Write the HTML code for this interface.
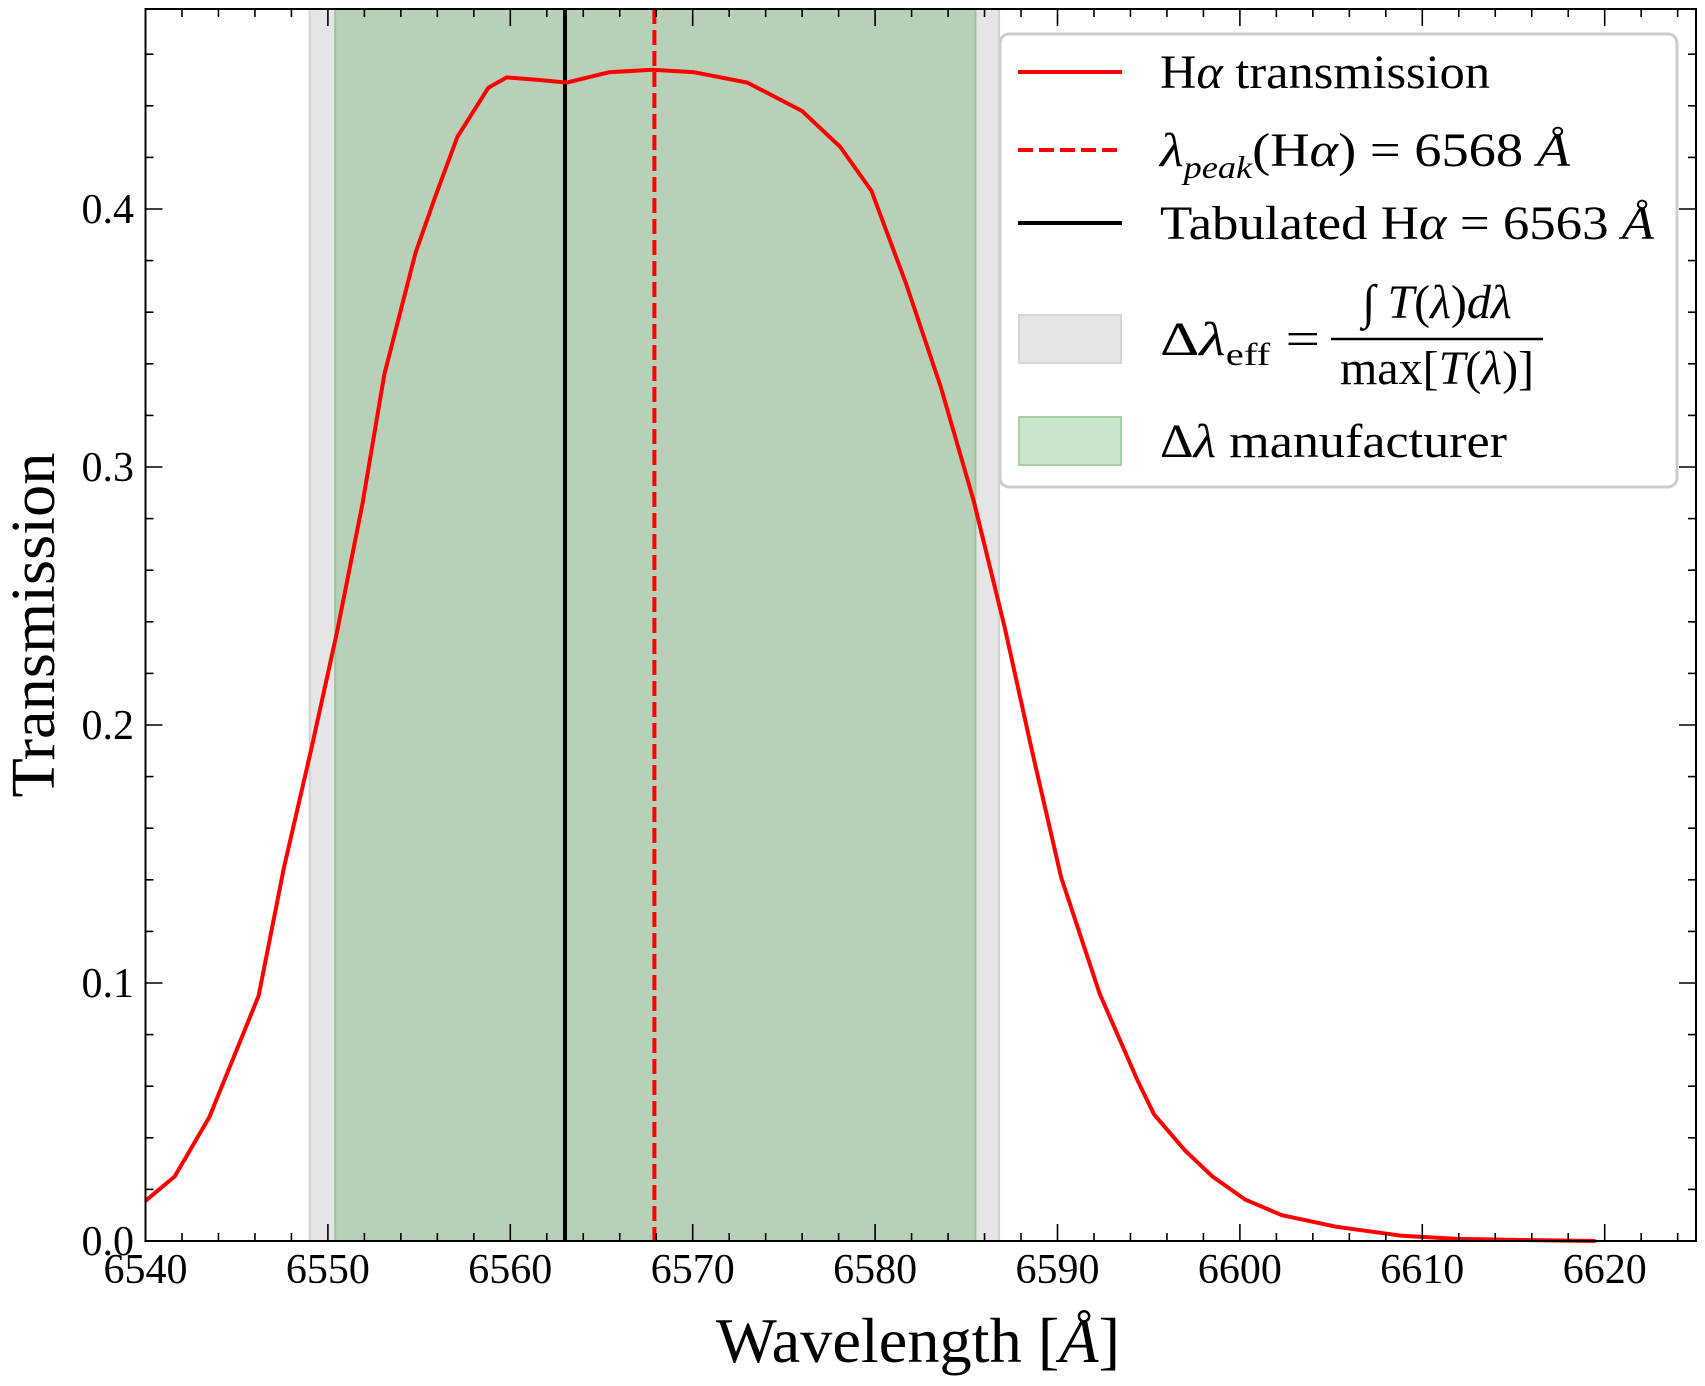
<!DOCTYPE html>
<html><head><meta charset="utf-8"><style>
html,body{margin:0;padding:0;background:#fff;}
svg{display:block;font-family:"Liberation Serif","DejaVu Serif",serif;}
svg text{font-family:"Liberation Serif","DejaVu Serif",serif;}
</style></head><body>
<svg id="chart" width="1705" height="1386" viewBox="0 0 1705 1386" xmlns="http://www.w3.org/2000/svg">
<g id="bands"></g>
<g id="series"></g>
<g id="axes"></g>
<g id="legend"></g>
</svg>
<script>
const wavelengths=[6540,6541.6,6543.5,6546.2,6547.6,6549.1,6550.5,6551.9,6553.1,6554.8,6555.9,6557.1,6558.8,6559.8,6561.6,6563.1,6565.4,6567.8,6570.1,6573.0,6576.0,6578.1,6579.8,6581.7,6583.6,6585.4,6587.1,6588.6,6590.2,6592.3,6594.4,6595.3,6597.0,6598.5,6600.3,6602.3,6605.3,6608.9,6611.9,6615.5,6619.5];
const transmission=[0.0156,0.025,0.048,0.095,0.145,0.191,0.236,0.286,0.336,0.383,0.405,0.428,0.447,0.451,0.450,0.449,0.453,0.454,0.453,0.449,0.438,0.424,0.407,0.371,0.331,0.287,0.238,0.190,0.141,0.096,0.062,0.049,0.035,0.025,0.016,0.010,0.0055,0.002,0.0008,0.0004,0.0];
const xTicks=[6540,6550,6560,6570,6580,6590,6600,6610,6620];
const yTicks=[0.0,0.1,0.2,0.3,0.4];
const yTickLabels=["0.0","0.1","0.2","0.3","0.4"];
const peakLambda=6567.9;
const tabulatedLambda=6563.0;
const effBand=[6549.0,6586.8];
const manuBand=[6550.4,6585.5];
const xMin=6540, xMax=6625, yMin=0, yMax=0.4775;
const L=145.5,R=1696,T=9,B=1241;
const NS="http://www.w3.org/2000/svg";
const FF='"Liberation Serif","DejaVu Serif",serif';
function sx(v){return L+(v-xMin)*18.24;}
function sy(v){return B-(v-yMin)*2580;}
function mk(tag,attrs,parent){const e=document.createElementNS(NS,tag);for(const k in attrs)e.setAttribute(k,attrs[k]);if(tag==='text')e.setAttribute('font-family',FF);parent.appendChild(e);return e;}
const bands=document.getElementById('bands'),series=document.getElementById('series'),axes=document.getElementById('axes'),legend=document.getElementById('legend');

let b1=mk('rect',{x:sx(effBand[0]),y:T,width:sx(effBand[1])-sx(effBand[0]),height:B-T,fill:'#e5e5e5',stroke:'#d0d0d0','stroke-width':2},bands);


let b2=mk('rect',{x:sx(manuBand[0]),y:T,width:sx(manuBand[1])-sx(manuBand[0]),height:B-T,fill:'#b8d0b8',stroke:'#9cc49c','stroke-width':2},bands);



let vt=mk('line',{x1:sx(tabulatedLambda),x2:sx(tabulatedLambda),y1:T,y2:B,stroke:'#000','stroke-width':4},series);


let vp=mk('line',{x1:sx(peakLambda),x2:sx(peakLambda),y1:T,y2:B,stroke:'#ff0000','stroke-width':4,'stroke-dasharray':'15,6'},series);


let pts=wavelengths.map((w,i)=>sx(w).toFixed(1)+','+sy(transmission[i]).toFixed(1)).join(' ');
let curve=mk('polyline',{points:pts,fill:'none',stroke:'#ff0000','stroke-width':4,'stroke-linejoin':'round'},series);



let fr=mk('rect',{x:L,y:T,width:R-L,height:B-T,fill:'none',stroke:'#000','stroke-width':2},axes);


for(let v=xMin;v<=xMax+0.001;v+=2){
  const major=(Math.round(v)%10===0);const len=major?17:8;const x=sx(v);
  mk('line',{x1:x,x2:x,y1:B,y2:B-len,stroke:'#000','stroke-width':1.6},axes);
  mk('line',{x1:x,x2:x,y1:T,y2:T+len,stroke:'#000','stroke-width':1.6},axes);
}
xTicks.forEach(v=>{
  const t=mk('text',{x:sx(v),y:1283,'font-size':42,'text-anchor':'middle'},axes);
  t.textContent=String(v);
  
  
});
for(let k=0;k<=23;k++){
  const v=k*0.02;const major=(k%5===0);const len=major?17:8;const y=sy(v);
  if(y<T)break;
  mk('line',{x1:L,x2:L+len,y1:y,y2:y,stroke:'#000','stroke-width':1.6},axes);
  mk('line',{x1:R,x2:R-len,y1:y,y2:y,stroke:'#000','stroke-width':1.6},axes);
}
yTicks.forEach((v,i)=>{
  const t=mk('text',{x:134,y:sy(v)+14,'font-size':42,'text-anchor':'end'},axes);
  t.textContent=yTickLabels[i];
  
  
});
let xt=mk('text',{x:918,y:1362,'font-size':64,'text-anchor':'middle',textLength:404,lengthAdjust:'spacingAndGlyphs'},axes);
xt.innerHTML='Wavelength [<tspan font-style="italic">Å</tspan>]';


let yt=mk('text',{x:0,y:0,'font-size':62,'text-anchor':'middle',transform:'translate(54,625) rotate(-90)',textLength:345,lengthAdjust:'spacingAndGlyphs'},axes);
yt.textContent='Transmission';



let lb=mk('rect',{x:1000,y:34,width:677,height:453,rx:9,fill:'#fff','fill-opacity':0.85,stroke:'#cccccc','stroke-width':3},legend);


function entry(name,y,handle,html,len){
  const g=mk('g',{},legend);
  
  
  handle(g,y);
  const t=mk('text',{x:1160,y:y+16,'font-size':48},g);
  if(len){t.setAttribute('textLength',len);t.setAttribute('lengthAdjust','spacingAndGlyphs');}
  t.innerHTML=html;
  return g;
}
entry('legend-entry-transmission',72,(g,y)=>mk('line',{x1:1018,x2:1122,y1:y,y2:y,stroke:'#ff0000','stroke-width':4},g),'H<tspan font-style="italic">α</tspan> transmission',330);
entry('legend-entry-peak',150,(g,y)=>mk('line',{x1:1018,x2:1122,y1:y,y2:y,stroke:'#ff0000','stroke-width':4,'stroke-dasharray':'15,6'},g),'<tspan font-style="italic">λ</tspan><tspan font-style="italic" font-size="32" dy="12">peak</tspan><tspan dy="-12">(H</tspan><tspan font-style="italic">α</tspan>) = 6568 <tspan font-style="italic">Å</tspan>',410);
entry('legend-entry-tabulated',223,(g,y)=>mk('line',{x1:1018,x2:1122,y1:y,y2:y,stroke:'#000','stroke-width':4},g),'Tabulated H<tspan font-style="italic">α</tspan> = 6563 <tspan font-style="italic">Å</tspan>',494);
let ge=entry('legend-entry-effective-width',339,(g,y)=>mk('rect',{x:1019,y:y-24,width:102,height:48,fill:'#e5e5e5',stroke:'#d6d6d6','stroke-width':2},g),'Δ<tspan font-style="italic">λ</tspan><tspan font-size="32" dy="10">eff</tspan><tspan dy="-10"> =</tspan>',160);
mk('line',{x1:1331,x2:1543,y1:339,y2:339,stroke:'#000','stroke-width':2.5},ge);
let nt=mk('text',{x:1437,y:318,'font-size':48,'text-anchor':'middle'},ge);
nt.innerHTML='∫ <tspan font-style="italic">T</tspan>(<tspan font-style="italic">λ</tspan>)<tspan font-style="italic">dλ</tspan>';
let dt=mk('text',{x:1437,y:384,'font-size':48,'text-anchor':'middle'},ge);
dt.innerHTML='max[<tspan font-style="italic">T</tspan>(<tspan font-style="italic">λ</tspan>)]';
entry('legend-entry-manufacturer',441,(g,y)=>mk('rect',{x:1019,y:y-24,width:102,height:48,fill:'#cce3cc',stroke:'#a8d0a8','stroke-width':2},g),'Δ<tspan font-style="italic">λ</tspan> manufacturer',347);
</script>
</body></html>
